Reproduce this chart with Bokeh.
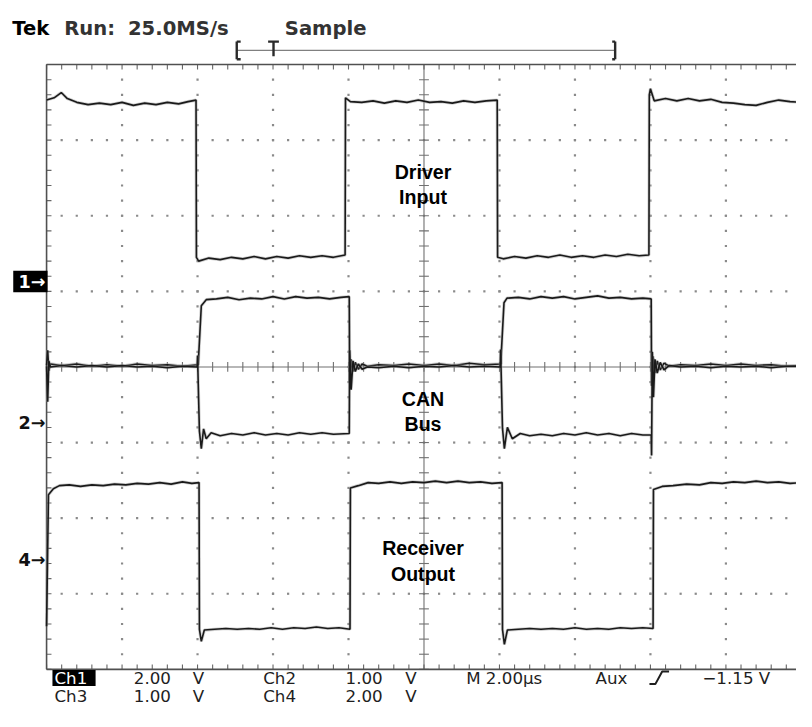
import numpy as np
from bokeh.plotting import figure
from bokeh.models import Range1d, Label
from bokeh.embed import file_html
from bokeh.resources import INLINE

# ---------------- data: (time µs, position in screen divisions; 0 = centre line), M 2.00 µs/div ----------
driver_pts = [(0.00, 3.53), (0.20, 3.56), (0.39, 3.63), (0.55, 3.55), (0.80, 3.50), (1.10, 3.47), (1.40, 3.49),
              (1.70, 3.47), (2.00, 3.50), (2.30, 3.46), (2.60, 3.49), (2.90, 3.47), (3.20, 3.50), (3.50, 3.48),
              (3.75, 3.51), (3.96, 3.53),
              (3.97, 1.45), (4.03, 1.40), (4.30, 1.44), (4.60, 1.42), (4.90, 1.45), (5.20, 1.43), (5.50, 1.46),
              (5.80, 1.43), (6.10, 1.46), (6.40, 1.44), (6.70, 1.47), (7.00, 1.45), (7.30, 1.47), (7.60, 1.45),
              (7.91, 1.48),
              (7.92, 3.56), (8.05, 3.51), (8.35, 3.50), (8.65, 3.52), (8.95, 3.49), (9.25, 3.52), (9.55, 3.50),
              (9.85, 3.53), (10.15, 3.50), (10.45, 3.51), (10.75, 3.49), (11.05, 3.52), (11.35, 3.50),
              (11.65, 3.52), (11.94, 3.53),
              (11.95, 1.45), (12.10, 1.43), (12.40, 1.46), (12.70, 1.44), (13.00, 1.47), (13.30, 1.45),
              (13.60, 1.48), (13.90, 1.45), (14.20, 1.47), (14.50, 1.45), (14.80, 1.48), (15.10, 1.46),
              (15.40, 1.49), (15.70, 1.47), (15.96, 1.48),
              (15.97, 3.60), (16.00, 3.68), (16.10, 3.52), (16.40, 3.55), (16.70, 3.52), (17.00, 3.55),
              (17.30, 3.52), (17.60, 3.54), (17.90, 3.50), (18.20, 3.49), (18.50, 3.47), (18.80, 3.46),
              (19.10, 3.50), (19.40, 3.53), (19.70, 3.51), (20.00, 3.50)]

canh_pts = [(0.00, 0.02), (0.03, 0.22), (0.06, -0.05), (0.10, 0.04), (0.40, 0.02), (0.80, 0.04), (1.20, 0.01),
            (1.60, 0.03), (2.00, 0.01), (2.40, 0.04), (2.80, 0.02), (3.20, 0.03), (3.60, 0.01), (4.02, 0.03),
            (4.03, 0.15), (4.10, 0.81), (4.23, 0.89), (4.50, 0.90), (4.80, 0.92), (5.10, 0.89), (5.40, 0.91),
            (5.70, 0.90), (6.00, 0.93), (6.30, 0.90), (6.60, 0.93), (6.90, 0.91), (7.20, 0.92), (7.50, 0.90),
            (7.80, 0.92), (8.02, 0.93),
            (8.03, -0.20), (8.07, 0.10), (8.12, -0.06), (8.18, 0.06), (8.26, -0.03), (8.36, 0.04), (8.50, 0.01),
            (8.80, 0.03), (9.20, 0.02), (9.60, 0.04), (10.00, 0.02), (10.40, 0.04), (10.80, 0.02), (11.20, 0.05),
            (11.60, 0.03), (12.04, 0.04),
            (12.05, 0.20), (12.12, 0.85), (12.20, 0.91), (12.50, 0.92), (12.80, 0.90), (13.10, 0.93),
            (13.40, 0.91), (13.70, 0.93), (14.00, 0.90), (14.30, 0.92), (14.60, 0.94), (14.90, 0.91),
            (15.20, 0.92), (15.50, 0.90), (15.80, 0.91), (16.02, 0.90),
            (16.03, -0.25), (16.07, 0.14), (16.12, -0.08), (16.18, 0.08), (16.26, -0.04), (16.36, 0.05),
            (16.50, 0.01), (16.80, 0.03), (17.20, 0.02), (17.60, 0.04), (18.00, 0.02), (18.40, 0.04),
            (18.80, 0.02), (19.20, 0.03), (19.60, 0.01), (20.00, 0.02)]

canl_pts = [(0.00, 0.01), (0.03, -0.46), (0.06, 0.08), (0.10, 0.00), (0.40, 0.02), (0.80, 0.00), (1.20, 0.02),
            (1.60, 0.00), (2.00, 0.02), (2.40, 0.00), (2.80, 0.01), (3.20, -0.01), (3.60, 0.01), (3.99, 0.00),
            (4.00, 0.15), (4.05, -0.85), (4.10, -1.08), (4.16, -0.82), (4.23, -0.95), (4.36, -0.87),
            (4.60, -0.91), (4.90, -0.88), (5.20, -0.90), (5.50, -0.87), (5.80, -0.90), (6.10, -0.88),
            (6.40, -0.90), (6.70, -0.87), (7.00, -0.89), (7.30, -0.87), (7.60, -0.89), (8.02, -0.88),
            (8.03, 0.22), (8.07, -0.30), (8.12, 0.08), (8.18, -0.06), (8.26, 0.04), (8.36, -0.03), (8.50, 0.00),
            (8.80, -0.01), (9.20, 0.01), (9.60, -0.01), (10.00, 0.01), (10.40, 0.00), (10.80, 0.02),
            (11.20, 0.00), (11.60, 0.01), (12.02, 0.00),
            (12.03, 0.23), (12.08, -0.81), (12.13, -1.08), (12.21, -0.80), (12.34, -0.95), (12.55, -0.88),
            (12.80, -0.91), (13.10, -0.89), (13.40, -0.91), (13.70, -0.88), (14.00, -0.90), (14.30, -0.87),
            (14.60, -0.90), (14.90, -0.88), (15.20, -0.91), (15.50, -0.88), (15.80, -0.90), (16.02, -0.90),
            (16.03, -1.17), (16.05, 0.20), (16.08, -0.40), (16.12, 0.10), (16.18, -0.08), (16.26, 0.06),
            (16.36, -0.04), (16.50, 0.02), (16.80, 0.00), (17.20, 0.01), (17.60, -0.01), (18.00, 0.01),
            (18.40, 0.00), (18.80, 0.01), (19.20, -0.01), (19.60, 0.01), (20.00, 0.01)]

recv_pts = [(0.00, -3.43), (0.05, -1.69), (0.18, -1.61), (0.34, -1.57), (0.60, -1.56), (0.90, -1.58),
            (1.20, -1.56), (1.50, -1.57), (1.80, -1.55), (2.10, -1.56), (2.40, -1.54), (2.70, -1.55),
            (3.00, -1.53), (3.30, -1.55), (3.60, -1.52), (3.85, -1.54), (4.04, -1.53),
            (4.05, -3.47), (4.10, -3.63), (4.18, -3.48), (4.45, -3.47), (4.75, -3.46), (5.05, -3.47),
            (5.35, -3.46), (5.65, -3.47), (5.95, -3.45), (6.25, -3.47), (6.55, -3.45), (6.85, -3.46),
            (7.15, -3.44), (7.45, -3.46), (7.75, -3.45), (8.04, -3.47),
            (8.05, -1.60), (8.26, -1.57), (8.52, -1.53), (8.80, -1.54), (9.10, -1.52), (9.40, -1.54),
            (9.70, -1.52), (10.00, -1.53), (10.30, -1.51), (10.60, -1.53), (10.90, -1.51), (11.20, -1.53),
            (11.50, -1.52), (11.80, -1.54), (12.07, -1.53),
            (12.08, -3.47), (12.13, -3.67), (12.21, -3.48), (12.50, -3.47), (12.80, -3.46), (13.10, -3.47),
            (13.40, -3.46), (13.70, -3.47), (14.00, -3.45), (14.30, -3.47), (14.60, -3.46), (14.90, -3.47),
            (15.20, -3.45), (15.50, -3.46), (15.80, -3.45), (16.07, -3.46),
            (16.08, -1.62), (16.31, -1.58), (16.60, -1.57), (16.96, -1.55), (17.30, -1.56), (17.60, -1.53),
            (17.90, -1.54), (18.20, -1.52), (18.50, -1.53), (18.80, -1.51), (19.10, -1.53), (19.40, -1.52),
            (19.70, -1.54), (20.00, -1.53)]

marker_labels = ["1", "2", "4"]
marker_levels = [1.13, -0.74, -2.55]
trace_labels = [["Driver", "Input"], ["CAN", "Bus"], ["Receiver", "Output"]]
header_parts = ["Tek", "Run:", "25.0MS/s", "Sample"]
scale_row1 = ["Ch1", "2.00", "V", "Ch2", "1.00", "V", "M 2.00µs", "Aux", "−1.15 V"]
scale_row2 = ["Ch3", "1.00", "V", "Ch4", "2.00", "V"]

# ---------------- layout (positions given in reference-image pixels, 812 x 727) ----------------
W, H = 796, 711
REF_W, REF_H = 812, 727
FS = W / REF_W            # font scale
PX_PER_US = 38.5          # 77 px per 2 µs division
PX_PER_DIV = 77.3
X0_PX, YC_PX = 47.0, 374.7


def X(px):
    return (px - X0_PX) / PX_PER_US


def Y(py):
    return (YC_PX - py) / PX_PER_DIV


def fs(size):
    return f"{size * FS:.1f}px"


p = figure(width=W, height=H,
           x_range=Range1d(X(0), X(REF_W)), y_range=Range1d(Y(REF_H), Y(0)),
           output_backend="svg", toolbar_location=None,
           x_axis_location=None, y_axis_location=None,
           min_border=0, outline_line_color=None,
           background_fill_color="white", border_fill_color="white")
for g in p.grid:
    g.visible = False

# ---------------- graticule ----------------
tx = np.round(np.arange(0, 20.001, 0.4), 4)
ty = np.round(np.arange(-4, 4.001, 0.2), 4)
tick_v = 5 / PX_PER_DIV
tick_h = 5 / PX_PER_US

dots_x, dots_y = [], []
for t in [2, 4, 6, 8, 12, 14, 16, 18]:
    for v in ty[1:-1]:
        dots_x.append(t); dots_y.append(v)
for v in [-3, -2, -1, 1, 2, 3]:
    for t in tx[1:]:
        dots_x.append(t); dots_y.append(v)
p.scatter(dots_x, dots_y, marker="square", size=2.2, fill_color="#8a8a8a", line_color=None)

p.segment(x0=[0, 10], y0=[0, -4], x1=[20, 10], y1=[0, 4], line_color="#707070", line_width=1.1)
p.segment(x0=tx, y0=-tick_v, x1=tx, y1=tick_v, line_color="#707070", line_width=1.1)
p.segment(x0=10 - tick_h, y0=ty, x1=10 + tick_h, y1=ty, line_color="#707070", line_width=1.1)

p.segment(x0=tx, y0=4, x1=tx, y1=4 - tick_v, line_color="#666", line_width=1.1)
p.segment(x0=tx, y0=-4, x1=tx, y1=-4 + tick_v, line_color="#666", line_width=1.1)
p.segment(x0=0, y0=ty, x1=tick_h, y1=ty, line_color="#666", line_width=1.1)
p.segment(x0=[0, 0, 0, 20], y0=[-4, 4, -4, -4], x1=[0, 20, 20, 20], y1=[4, 4, -4, 4],
          line_color="#505050", line_width=1.6)

# ---------------- traces ----------------
for pts in [driver_pts, canh_pts, canl_pts, recv_pts]:
    tt = [a for a, _ in pts]
    vv = [b for _, b in pts]
    p.line(tt, vv, line_color="#9a9a9a", line_width=3.2, line_alpha=0.45)
    p.line(tt, vv, line_color="#1a1a1a", line_width=1.6)


# ---------------- texts ----------------
def lab(text, px, py, size, font="DejaVu Sans", style="normal", color="#111111",
        align="left", baseline="alphabetic"):
    p.add_layout(Label(x=X(px), y=Y(py), text=text, text_font=font,
                       text_font_size=fs(size), text_font_style=style,
                       text_color=color, text_align=align, text_baseline=baseline))


lab(header_parts[0], 12, 29, 20, style="bold", color="#000000")
lab(header_parts[1], 65, 29, 20, style="bold", color="#333333")
lab(header_parts[2], 130, 29, 20, style="bold", color="#333333")
lab(header_parts[3], 290, 29, 20, style="bold", color="#333333")

bar_y = Y(51)
p.segment(x0=[X(241)], y0=[bar_y], x1=[X(627)], y1=[bar_y], line_color="#808080", line_width=1.3)
p.segment(x0=[X(241), X(241), X(241), X(627), X(624), X(624), X(273), X(278.5)],
          y0=[Y(42), Y(42), Y(60), Y(42), Y(42), Y(60), Y(42), Y(42)],
          x1=[X(241), X(245), X(245), X(627), X(627), X(627), X(284), X(278.5)],
          y1=[Y(60), Y(42), Y(60), Y(60), Y(42), Y(60), Y(42), Y(57)],
          line_color="#2a2a2a", line_width=2.4)

for name, lvl in zip(marker_labels, marker_levels):
    if name == "1":
        p.quad(left=[X(13)], right=[X(48)], top=[lvl + 11 / PX_PER_DIV], bottom=[lvl - 11 / PX_PER_DIV],
               fill_color="#000000", line_color=None)
        col = "#ffffff"
    else:
        col = "#111111"
    p.add_layout(Label(x=X(46), y=lvl, text=name + "→", text_font="DejaVu Sans",
                       text_font_size=fs(18), text_font_style="bold", text_color=col,
                       text_align="right", text_baseline="middle"))

for (l1, l2), (b1, b2) in zip(trace_labels, [(175, 201), (407, 433), (560, 586)]):
    lab(l1, 431, b1, 20, font="Liberation Sans", style="bold", color="#000000", align="center")
    lab(l2, 431, b2, 20, font="Liberation Sans", style="bold", color="#000000", align="center")

# bottom readout (two rows, vertically centred on their row lines)
ROW1, ROW2 = 693, 711
p.quad(left=[X(53)], right=[X(97)], top=[Y(ROW1 - 8.5)], bottom=[Y(ROW1 + 8)],
       fill_color="#000000", line_color=None)
row1_x = [55, 136, 196, 268, 352, 413, 475, 607, 716]
for txt, x in zip(scale_row1, row1_x):
    lab(txt, x, ROW1, 17, color="#ffffff" if txt == "Ch1" else "#1e1e1e", baseline="middle")
row2_x = [55, 136, 196, 268, 352, 413]
for txt, x in zip(scale_row2, row2_x):
    lab(txt, x, ROW2, 17, color="#1e1e1e", baseline="middle")
p.line([X(662), X(668), X(675), X(682)], [Y(ROW1 + 6), Y(ROW1 + 6), Y(ROW1 - 7), Y(ROW1 - 7)],
       line_color="#1e1e1e", line_width=2)

open("out.html", "w").write(file_html(p, INLINE))
